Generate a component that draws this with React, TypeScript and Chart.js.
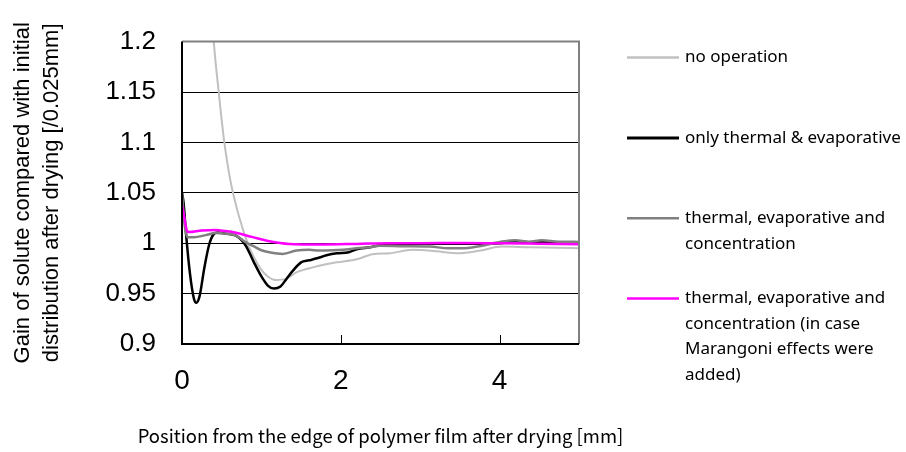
import React, { useEffect, useRef } from "react";
import { Chart, registerables } from "chart.js";

Chart.register(...registerables);

// ---- data (position [mm] / gain) ----
const noOpX = [0.05, 0.1, 0.2, 0.3, 0.4, 0.465, 0.53, 0.61, 0.72, 0.846, 0.92, 0.99, 1.08, 1.18, 1.31, 1.44, 1.65, 1.95, 2.2, 2.4, 2.62, 2.9, 3.2, 3.49, 3.74, 4.03, 4.37, 4.7, 5.0];
const noOpY = [2.0, 1.8, 1.5, 1.32, 1.2, 1.148, 1.102, 1.062, 1.026, 0.996, 0.984, 0.9745, 0.967, 0.9636, 0.9646, 0.971, 0.976, 0.981, 0.984, 0.989, 0.99, 0.9934, 0.992, 0.99, 0.9924, 0.9967, 0.996, 0.9955, 0.995];

const thermalX = [0, 0.02, 0.05, 0.1, 0.15, 0.18, 0.22, 0.28, 0.34, 0.4, 0.45, 0.55, 0.68, 0.8, 0.9, 1.0, 1.08, 1.16, 1.24, 1.32, 1.4, 1.5, 1.6, 1.7, 1.82, 1.95, 2.1, 2.2, 2.37, 2.5, 2.62, 2.8, 3.0, 3.5, 4.0, 4.2, 4.4, 4.6, 5.0];
const thermalY = [1.05, 1.04, 1.01, 0.97, 0.945, 0.941, 0.947, 0.975, 0.998, 1.009, 1.0105, 1.0095, 1.0075, 0.998, 0.982, 0.967, 0.958, 0.955, 0.957, 0.965, 0.973, 0.981, 0.983, 0.985, 0.988, 0.99, 0.991, 0.994, 0.996, 0.998, 0.998, 0.999, 0.9995, 0.9995, 1.0, 1.002, 1.001, 1.001, 1.0005];

const concX = [0, 0.03, 0.07, 0.15, 0.3, 0.42, 0.55, 0.68, 0.8, 0.9, 1.0, 1.1, 1.27, 1.44, 1.6, 1.73, 2.03, 2.2, 2.37, 2.49, 2.8, 3.12, 3.35, 3.53, 3.74, 4.03, 4.2, 4.37, 4.53, 4.74, 5.0];
const concY = [1.05, 1.02, 1.006, 1.006, 1.008, 1.01, 1.0095, 1.0075, 1.001, 0.997, 0.993, 0.991, 0.9894, 0.9927, 0.9935, 0.9927, 0.9934, 0.995, 0.996, 0.9974, 0.997, 0.9967, 0.995, 0.995, 0.997, 1.0016, 1.003, 1.0015, 1.003, 1.0015, 1.0013];

const marangoniX = [0, 0.03, 0.06, 0.085, 0.25, 0.42, 0.55, 0.68, 0.89, 1.1, 1.35, 1.73, 2.2, 2.6, 3.0, 3.5, 4.0, 4.5, 5.0];
const marangoniY = [1.038, 1.025, 1.013, 1.011, 1.0126, 1.013, 1.012, 1.0103, 1.006, 1.002, 0.9993, 0.9987, 0.9993, 1.0, 1.0, 1.0003, 1.0, 0.9995, 0.999];

const seriesLabels = [
  ["no operation"],
  ["only thermal & evaporative"],
  ["thermal, evaporative and", "concentration"],
  ["thermal, evaporative and", "concentration (in case", "Marangoni effects were", "added)"],
];
const seriesColors = ["#c0c0c0", "#000000", "#808080", "#ff00ff"];

const xTitle = "Position from the edge of polymer film after drying [mm]";
const yTitle = ["Gain of solute compared with initial", "distribution after drying [/0.025mm]"];

const toPoints = (xs: number[], ys: number[]) => xs.map((x, i) => ({ x, y: ys[i] }));

const LEGEND_FONT = "17px 'Noto Sans'";
const XTITLE_FONT = "18.5px 'Noto Sans CJK JP'";

const framePlugin = {
  id: "frame",
  afterDraw(chart: any) {
    const { ctx, chartArea } = chart;
    const { left, right, top, bottom } = chartArea;
    ctx.save();
    // gray plot border (top & right)
    ctx.strokeStyle = "#808080";
    ctx.lineWidth = 2;
    ctx.beginPath();
    ctx.moveTo(left, top);
    ctx.lineTo(right, top);
    ctx.lineTo(right, bottom);
    ctx.stroke();
    // black axes
    ctx.strokeStyle = "#000";
    ctx.beginPath();
    ctx.moveTo(left, top);
    ctx.lineTo(left, bottom);
    ctx.lineTo(right, bottom);
    ctx.stroke();
    // inside tick marks on x axis
    const xs = chart.scales.x;
    ctx.lineWidth = 1;
    xs.ticks.forEach((t: any) => {
      if (t.value === 0 || t.value % 2 !== 0) return;
      const px = Math.round(xs.getPixelForValue(t.value)) + 0.5;
      ctx.beginPath();
      ctx.moveTo(px, bottom);
      ctx.lineTo(px, bottom - 9);
      ctx.stroke();
    });
    // x axis title (centered under plot area, no width limit)
    ctx.fillStyle = "#000";
    ctx.font = XTITLE_FONT;
    ctx.textAlign = "center";
    ctx.textBaseline = "middle";
    ctx.fillText(xTitle, (left + right) / 2, bottom + 92);
    // legend
    const lx0 = right + 48;
    const lx1 = right + 100;
    const tx = right + 106;
    const itemGap = 80.3;
    const lineGap = 25.5;
    const y0 = top + 16;
    ctx.font = LEGEND_FONT;
    ctx.textBaseline = "middle";
    ctx.textAlign = "left";
    seriesLabels.forEach((lines, i) => {
      const y = y0 + i * itemGap;
      ctx.strokeStyle = seriesColors[i];
      ctx.lineWidth = i === 1 ? 3 : 2.5;
      ctx.beginPath();
      ctx.moveTo(lx0, y);
      ctx.lineTo(lx1, y);
      ctx.stroke();
      ctx.fillStyle = "#000";
      lines.forEach((ln, j) => ctx.fillText(ln, tx, y + j * lineGap));
    });
    ctx.restore();
  },
};

export default function App() {
  const ref = useRef<HTMLCanvasElement>(null);
  useEffect(() => {
    if (!ref.current) return;
    const mk = (label: string, xs: number[], ys: number[], i: number, order: number, w: number) => ({
      label,
      data: toPoints(xs, ys),
      borderColor: seriesColors[i],
      backgroundColor: seriesColors[i],
      borderWidth: w,
      pointRadius: 0,
      cubicInterpolationMode: "monotone" as const,
      order,
      fill: false,
    });
    const chart = new Chart(ref.current, {
      type: "line",
      data: {
        datasets: [
          mk(seriesLabels[0].join(" "), noOpX, noOpY, 0, 3, 2),
          mk(seriesLabels[1].join(" "), thermalX, thermalY, 1, 2, 2.5),
          mk(seriesLabels[2].join(" "), concX, concY, 2, 1, 2.5),
          mk(seriesLabels[3].join(" "), marangoniX, marangoniY, 3, 0, 2.5),
        ],
      },
      plugins: [framePlugin],
      options: {
        responsive: false,
        animation: false,
        layout: { padding: { top: 41, right: 327, left: 0, bottom: 0 } },
        plugins: { legend: { display: false }, tooltip: { enabled: false } },
        scales: {
          x: {
            type: "linear",
            min: 0,
            max: 5,
            afterFit: (s: any) => { s.height = 108; },
            border: { display: false },
            grid: { display: false },
            ticks: {
              stepSize: 2,
              padding: 12,
              color: "#000",
              font: { family: "'Liberation Sans', Arial", size: 28 },
              maxRotation: 0,
              callback: (v: any) => (Number(v) % 2 === 0 ? String(v) : ""),
            },
            title: { display: false },
          },
          y: {
            type: "linear",
            min: 0.9,
            max: 1.2,
            afterFit: (s: any) => { s.width = 182; },
            border: { display: false },
            grid: {
              drawTicks: false,
              color: (c: any) => {
                const v = Math.round(c.tick.value * 100) / 100;
                return v === 1.2 || v === 0.9 ? "rgba(0,0,0,0)" : "#000";
              },
              lineWidth: 1,
            },
            ticks: {
              stepSize: 0.05,
              padding: 26,
              color: "#000",
              font: { family: "'Liberation Sans', Arial", size: 26 },
              callback: (v: any) => String(Math.round(Number(v) * 100) / 100),
            },
            title: {
              display: true,
              text: yTitle,
              color: "#000",
              font: { family: "'Liberation Sans', Arial", size: 22, lineHeight: 1.32 },
              padding: { top: 8, bottom: 0 },
            },
          },
        },
      },
    });
    return () => chart.destroy();
  }, []);
  return (
    <div style={{ position: "absolute", left: 0, top: 0, width: 906, height: 452, background: "#fff" }}>
      <canvas ref={ref} width={906} height={452} style={{ display: "block" }} />
    </div>
  );
}
